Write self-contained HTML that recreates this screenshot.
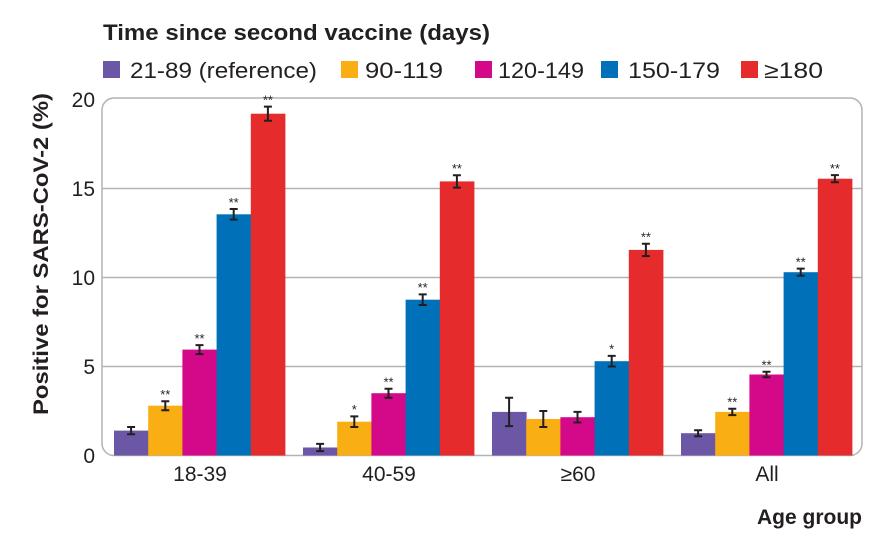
<!DOCTYPE html>
<html><head><meta charset="utf-8"><style>body{margin:0;background:#fff}svg{display:block}text{font-family:"Liberation Sans",sans-serif;fill:#231f20}</style></head>
<body>
<svg width="894" height="549" viewBox="0 0 894 549" xmlns="http://www.w3.org/2000/svg">
<text x="103" y="40" font-size="22" font-weight="bold" textLength="387" lengthAdjust="spacingAndGlyphs">Time since second vaccine (days)</text>
<rect x="103" y="61" width="17" height="17" fill="#6b57a5"/><text x="130" y="78" font-size="22" textLength="187" lengthAdjust="spacingAndGlyphs">21-89 (reference)</text>
<rect x="341" y="61" width="17" height="17" fill="#f9ae13"/><text x="365" y="78" font-size="22" textLength="78" lengthAdjust="spacingAndGlyphs">90-119</text>
<rect x="475" y="61" width="17" height="17" fill="#d4098a"/><text x="498" y="78" font-size="22" textLength="86" lengthAdjust="spacingAndGlyphs">120-149</text>
<rect x="601" y="61" width="17" height="17" fill="#0071b9"/><text x="628" y="78" font-size="22" textLength="92" lengthAdjust="spacingAndGlyphs">150-179</text>
<rect x="741" y="61" width="17" height="17" fill="#e62b2d"/><text x="764" y="78" font-size="22" textLength="59" lengthAdjust="spacingAndGlyphs">≥180</text>
<g stroke="#b3b3b3" stroke-width="1.5">
<line x1="102" y1="366.5" x2="862" y2="366.5"/><line x1="102" y1="277.5" x2="862" y2="277.5"/><line x1="102" y1="188.5" x2="862" y2="188.5"/>
</g>
<rect x="102" y="98" width="760" height="357.5" rx="12" fill="none" stroke="#b3b3b3" stroke-width="1.5"/>
<g font-size="21" text-anchor="end">
<text x="95" y="463">0</text><text x="95" y="374">5</text><text x="95" y="285">10</text><text x="95" y="196">15</text><text x="95" y="107">20</text>
</g>
<text transform="translate(48,254) rotate(-90)" font-size="21" font-weight="bold" text-anchor="middle" textLength="322" lengthAdjust="spacingAndGlyphs">Positive for SARS-CoV-2 (%)</text>
<g font-size="21" text-anchor="middle">
<text x="200" y="481">18-39</text><text x="389" y="481">40-59</text><text x="578" y="481">≥60</text><text x="767" y="481">All</text>
</g>
<text x="862" y="524" font-size="21" font-weight="bold" text-anchor="end">Age group</text>

<rect x="114" y="430.6" width="34.6" height="24.9" fill="#6b57a5"/>
<rect x="148.2" y="405.7" width="34.6" height="49.8" fill="#f9ae13"/>
<rect x="182.4" y="349.6" width="34.6" height="105.9" fill="#d4098a"/>
<rect x="216.6" y="214.3" width="34.6" height="241.2" fill="#0071b9"/>
<rect x="250.8" y="113.7" width="34.6" height="341.8" fill="#e62b2d"/>

<rect x="303" y="447.5" width="34.6" height="8" fill="#6b57a5"/>
<rect x="337.2" y="421.7" width="34.6" height="33.8" fill="#f9ae13"/>
<rect x="371.4" y="393.2" width="34.6" height="62.3" fill="#d4098a"/>
<rect x="405.6" y="299.7" width="34.6" height="155.8" fill="#0071b9"/>
<rect x="439.8" y="181.4" width="34.6" height="274.1" fill="#e62b2d"/>

<rect x="492" y="411.9" width="34.6" height="43.6" fill="#6b57a5"/>
<rect x="526.2" y="419" width="34.6" height="36.5" fill="#f9ae13"/>
<rect x="560.4" y="417.2" width="34.6" height="38.3" fill="#d4098a"/>
<rect x="594.6" y="361.2" width="34.6" height="94.3" fill="#0071b9"/>
<rect x="628.8" y="249.9" width="34.6" height="205.6" fill="#e62b2d"/>

<rect x="681" y="433.2" width="34.6" height="22.3" fill="#6b57a5"/>
<rect x="715.2" y="411.9" width="34.6" height="43.6" fill="#f9ae13"/>
<rect x="749.4" y="374.5" width="34.6" height="81" fill="#d4098a"/>
<rect x="783.6" y="272.2" width="34.6" height="183.3" fill="#0071b9"/>
<rect x="817.8" y="178.7" width="34.6" height="276.8" fill="#e62b2d"/>

<g stroke="#231f20" stroke-width="2" fill="none">
<path d="M127.1 427H135.1M131.1 427V434.2M127.1 434.2H135.1"/>
<path d="M161.3 401.2H169.3M165.3 401.2V410.2M161.3 410.2H169.3"/>
<path d="M195.5 345.1H203.5M199.5 345.1V354.1M195.5 354.1H203.5"/>
<path d="M229.7 209H237.7M233.7 209V219.6M229.7 219.6H237.7"/>
<path d="M263.9 106.6H271.9M267.9 106.6V120.8M263.9 120.8H271.9"/>
<path d="M316.1 443.9H324.1M320.1 443.9V451.1M316.1 451.1H324.1"/>
<path d="M350.3 416.4H358.3M354.3 416.4V427M350.3 427H358.3"/>
<path d="M384.5 388.7H392.5M388.5 388.7V397.7M384.5 397.7H392.5"/>
<path d="M418.7 294.4H426.7M422.7 294.4V305M418.7 305H426.7"/>
<path d="M452.9 175.2H460.9M456.9 175.2V187.6M452.9 187.6H460.9"/>
<path d="M505.1 397.7H513.1M509.1 397.7V426.1M505.1 426.1H513.1"/>
<path d="M539.3 411H547.3M543.3 411V427M539.3 427H547.3"/>
<path d="M573.5 411.9H581.5M577.5 411.9V422.5M573.5 422.5H581.5"/>
<path d="M607.7 355.9H615.7M611.7 355.9V366.5M607.7 366.5H615.7"/>
<path d="M641.9 243.7H649.9M645.9 243.7V256.1M641.9 256.1H649.9"/>
<path d="M694.1 430.2H702.1M698.1 430.2V436.2M694.1 436.2H702.1"/>
<path d="M728.3 408.7H736.3M732.3 408.7V415.1M728.3 415.1H736.3"/>
<path d="M762.5 371.8H770.5M766.5 371.8V377.2M762.5 377.2H770.5"/>
<path d="M796.7 268.6H804.7M800.7 268.6V275.8M796.7 275.8H804.7"/>
<path d="M830.9 175.1H838.9M834.9 175.1V182.3M830.9 182.3H838.9"/>
</g>
<g font-size="13" text-anchor="middle">
<text x="165.3" y="399">**</text><text x="199.5" y="343">**</text><text x="233.7" y="207">**</text><text x="267.9" y="104.5">**</text>
<text x="354.3" y="414">*</text><text x="388.5" y="386.5">**</text><text x="422.7" y="292">**</text><text x="456.9" y="173">**</text>
<text x="611.7" y="353.5">*</text><text x="645.9" y="241.5">**</text>
<text x="732.3" y="406.5">**</text><text x="766.5" y="369.5">**</text><text x="800.7" y="266.5">**</text><text x="834.9" y="173">**</text>
</g>
</svg>
</body></html>
